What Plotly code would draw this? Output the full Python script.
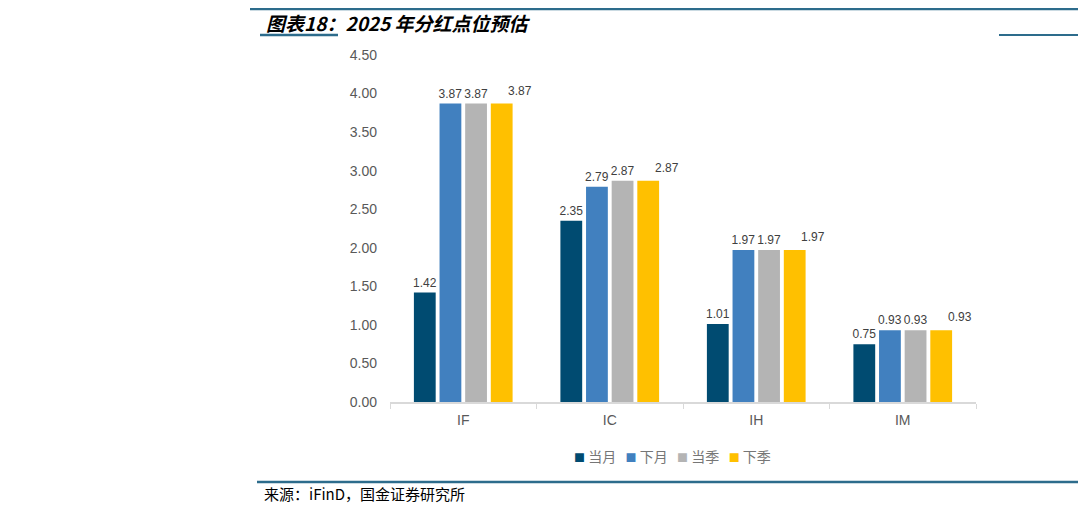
import plotly.graph_objects as go

categories = ["IF", "IC", "IH", "IM"]
series_names = ["当月", "下月", "当季", "下季"]
v_cur_month = [1.42, 2.35, 1.01, 0.75]
v_next_month = [3.87, 2.79, 1.97, 0.93]
v_cur_quarter = [3.87, 2.87, 1.97, 0.93]
v_next_quarter = [3.87, 2.87, 1.97, 0.93]
y_ticks = [0, 0.5, 1.0, 1.5, 2.0, 2.5, 3.0, 3.5, 4.0, 4.5]

colors = ["#004B71", "#4180BF", "#B4B4B4", "#FFC000"]
values = [v_cur_month, v_next_month, v_cur_quarter, v_next_quarter]

OFF = 8  # page body margin
W, H = 1086 - OFF, 505 - OFF
L, R, T, B = 390 - OFF, 1086 - 976, 55 - OFF, 505 - 402
pw, ph = W - L - R, H - T - B

def px_x(p):
    return (p - OFF - L) / pw

def px_y(p):
    return (H - B - (p - OFF)) / ph

fig = go.Figure()
label_font = dict(family="Liberation Sans, Arial", size=12, color="#404040")
for i, (name, vals, col) in enumerate(zip(series_names, values, colors)):
    last = i == len(series_names) - 1
    fig.add_trace(go.Bar(
        name=name, x=categories, y=vals, marker_color=col,
        marker_line_width=0,
        text=None if last else [f"{v:.2f}" for v in vals],
        textposition="outside", textfont=label_font, cliponaxis=False,
        constraintext="none",
    ))

# yellow series labels sit offset to the right of their bars
for c, v in zip(categories, v_next_quarter):
    fig.add_annotation(x=c, y=v, xref="x", yref="y", text=f"{v:.2f}",
                       showarrow=False, xshift=57, yshift=4, yanchor="bottom",
                       font=label_font)

fig.update_layout(
    width=W, height=H,
    margin=dict(l=L, r=R, t=T, b=B, pad=0),
    paper_bgcolor="white", plot_bgcolor="white",
    barmode="group", bargap=0.30, bargroupgap=0.15,
    showlegend=False,
    font=dict(family="Liberation Sans, Arial"),
    xaxis=dict(showline=True, linecolor="#D9D9D9", linewidth=1.5,
               ticks="outside", tickson="boundaries", ticklen=5,
               tickcolor="#D9D9D9", showgrid=False, ticklabelstandoff=4,
               tickfont=dict(family="Liberation Sans, Arial", size=14, color="#595959")),
    yaxis=dict(range=[0, 4.5], tickvals=y_ticks,
               ticktext=[f"{t:.2f}" for t in y_ticks],
               showgrid=False, zeroline=False, showline=False,
               ticklabelstandoff=12,
               tickfont=dict(family="Liberation Sans, Arial", size=14, color="#595959")),
)

# legend drawn as one line of coloured squares and names
sep = "\u00a0\u00a0\u00a0"
legend_text = sep.join(
    f"<span style='color:{c};font-size:11px'>■</span>\u00a0{n}"
    for n, c in zip(series_names, colors)
)
fig.add_annotation(text=legend_text, xref="paper", yref="paper",
                   x=px_x(672), y=px_y(456), xanchor="center", yanchor="middle",
                   showarrow=False,
                   font=dict(family="Noto Sans CJK SC", size=14, color="#767676"))

line_col = "#2D6C8C"
rules = [
    (250, 1086, OFF + 1, 2.5),   # top rule (as high as the page allows)
    (260, 338, 35, 2.5),         # title underline, left
    (999, 1080, 35, 2.0),        # title underline, right
    (257, 1080, 482, 2.5),       # bottom rule
]
for x0, x1, yy, w in rules:
    fig.add_shape(type="line", xref="paper", yref="paper", layer="above",
                  x0=px_x(x0), x1=px_x(x1), y0=px_y(yy), y1=px_y(yy),
                  line=dict(color=line_col, width=w))

fig.add_annotation(text="<b><i>图表18：2025 年分红点位预估</i></b>",
                   xref="paper", yref="paper", x=px_x(265), y=px_y(22),
                   xanchor="left", yanchor="middle", showarrow=False,
                   borderpad=0, bgcolor="rgba(0,0,0,0)",
                   font=dict(family="Noto Sans CJK SC", size=19, color="#000000"))
fig.add_annotation(text="来源：iFinD，国金证券研究所",
                   xref="paper", yref="paper", x=px_x(262), y=px_y(493),
                   xanchor="left", yanchor="middle", showarrow=False,
                   font=dict(family="Noto Sans CJK SC", size=15, color="#000000"))

fig.write_html("out.html")
